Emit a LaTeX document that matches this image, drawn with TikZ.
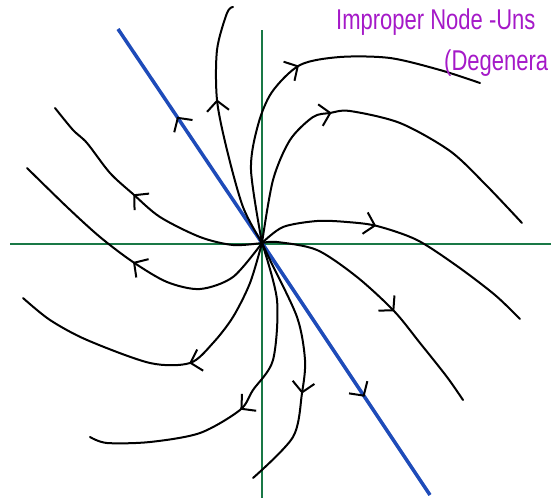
\documentclass[tikz,border=0pt]{standalone}
\usepackage{fontspec}
\setmainfont{Liberation Sans}
\usetikzlibrary{arrows.meta,decorations.markings}
\definecolor{axisgreen}{RGB}{25,120,70}
\definecolor{eigenblue}{RGB}{30,75,185}
\definecolor{titlepurple}{RGB}{165,25,200}

\begin{document}
\begin{tikzpicture}[x=1pt,y=-1pt,
    orbit/.style={line width=2pt,line cap=round,line join=round},
    flow/.style={postaction={decorate,decoration={markings,
        mark=at position #1 with {\arrow[black,line width=2pt]{Straight Barb[length=10pt,width=22pt]}}}}}]
    \useasboundingbox (0,0) rectangle (551,498);
    \coordinate (O) at (262,243);

    % Axes
    \draw[axisgreen,line width=1.6pt] (10,244) -- (551,244);
    \draw[axisgreen,line width=1.6pt] (262,30) -- (262,498);

    % Eigenvector line
    \draw[eigenblue,line width=3.5pt,flow=0.59] (O) -- (118,29);
    \draw[eigenblue,line width=3.5pt,flow=0.61] (O) -- (430,495);

    % Trajectories leaving the node
    \draw[orbit,flow=0.61] plot[smooth] coordinates {(O) (243,207) (227,150) (217,100) (217,50) (227,13) (233,7)};
    \draw[orbit,flow=0.51] plot[smooth] coordinates {(O) (251,170) (258,125) (272,92) (300,65) (340,57) (390,58) (440,70) (480,83)};
    \draw[orbit,flow=0.41] plot[smooth] coordinates {(O) (273,180) (290,140) (313,117) (330,113) (350,111) (400,123) (450,151) (486,185) (522,223)};
    \draw[orbit,flow=0.41] plot[smooth] coordinates {(O) (283,227) (317,221) (347,222) (377,226) (417,240) (457,266) (495,295) (520,319)};
    \draw[orbit,flow=0.58] plot[smooth] coordinates {(O) (277,242) (317,250) (357,277) (394,311) (420,343) (447,377) (463,400)};
    \draw[orbit,flow=0.61] plot[smooth] coordinates {(O) (270,260) (297,317) (305,360) (302,393) (293,437) (253,478)};
    \draw[orbit,flow=0.53] plot[smooth] coordinates {(O) (277,300) (273,360) (253,390) (240,410) (200,433) (150,442) (107,443) (90,437)};
    \draw[orbit,flow=0.44] plot[smooth] coordinates {(O) (250,283) (233,317) (213,343) (190,363) (150,363) (87,340) (50,320) (23,298)};
    \draw[orbit,flow=0.52] plot[smooth] coordinates {(O) (233,277) (200,289) (167,282) (133,262) (100,237) (67,207) (27,168)};
    \draw[orbit,flow=0.55] plot[smooth] coordinates {(O) (233,245) (200,237) (160,217) (133,194) (110,173) (87,143) (73,130) (55,108)};

    % Title
    \node[titlepurple,anchor=base west,inner sep=0pt,font=\fontsize{22}{28}\selectfont,yscale=1.3] (title) at (336,29) {Improper Node -Uns};
    \node[titlepurple,anchor=base west,inner sep=0pt,font=\fontsize{22}{28}\selectfont,yscale=1.3] (subtitle) at (444,70) {(Degenera};
\end{tikzpicture}
\end{document}
